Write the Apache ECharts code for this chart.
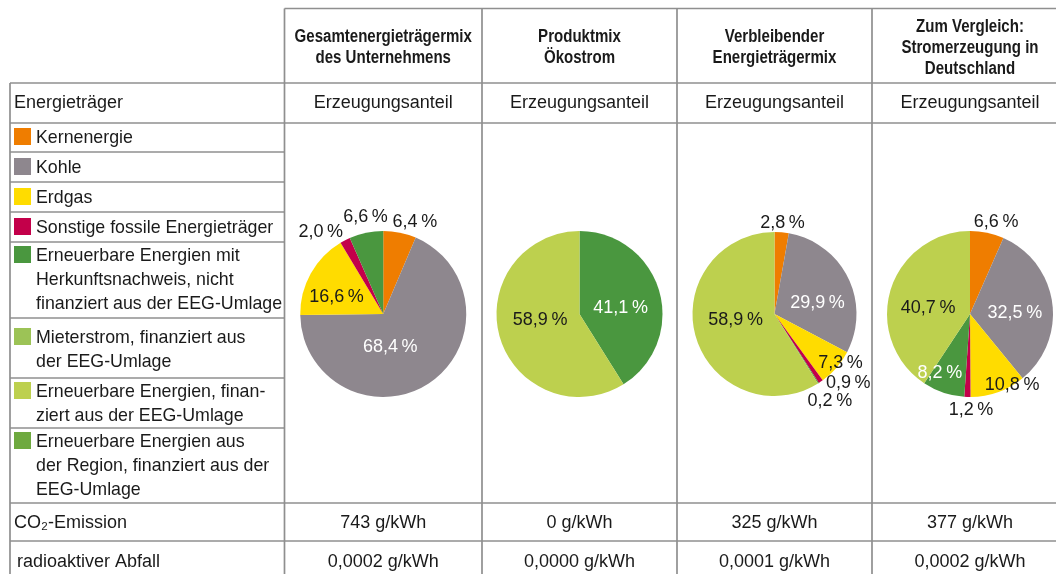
<!DOCTYPE html>
<html><head><meta charset="utf-8">
<script src="https://cdn.jsdelivr.net/npm/echarts@6/dist/echarts.min.js"></script>
<style>html,body{margin:0;padding:0;background:#fff}#c{width:1056px;height:574px}</style>
</head><body><div id="c"></div>
<script>
// ---------- DATA ----------
const categories = [
  'Kernenergie',
  'Kohle',
  'Erdgas',
  'Sonstige fossile Energieträger',
  'Erneuerbare Energien mit Herkunftsnachweis, nicht finanziert aus der EEG-Umlage',
  'Mieterstrom, finanziert aus der EEG-Umlage',
  'Erneuerbare Energien, finanziert aus der EEG-Umlage',
  'Erneuerbare Energien aus der Region, finanziert aus der EEG-Umlage'
];
const categoryLabels = [
  'Kernenergie',
  'Kohle',
  'Erdgas',
  'Sonstige fossile Energieträger',
  'Erneuerbare Energien mit\nHerkunftsnachweis, nicht\nfinanziert aus der EEG-Umlage',
  'Mieterstrom, finanziert aus\nder EEG-Umlage',
  'Erneuerbare Energien, finan-\nziert aus der EEG-Umlage',
  'Erneuerbare Energien aus\nder Region, finanziert aus der\nEEG-Umlage'
];
const columnTitles = [
  'Gesamtenergieträgermix\ndes Unternehmens',
  'Produktmix\nÖkostrom',
  'Verbleibender\nEnergieträgermix',
  'Zum Vergleich:\nStromerzeugung in\nDeutschland'
];
const rowHeader = 'Energieträger';
const subHeader = 'Erzeugungsanteil';
const gesamtmix   = [6.4, 68.4, 16.6, 2.0, 6.6, 0, 0, 0];
const produktmix  = [0, 0, 0, 0, 41.1, 0, 58.9, 0];
const verbleibend = [2.8, 29.9, 7.3, 0.9, 0.2, 0, 58.9, 0];
const deutschland = [6.6, 32.5, 10.8, 1.2, 8.2, 0, 40.7, 0];
const co2Label = 'CO\u2082-Emission';
const co2Values = [743, 0, 325, 377];
const wasteLabel = ' radioaktiver Abfall';
const wasteValues = [0.0002, 0.0000, 0.0001, 0.0002];

// ---------- STYLE / LAYOUT ----------
const COLORS = ['#EF7D00', '#8E878E', '#FFDC00', '#C3004A', '#4A973F', '#9CC356', '#BDD04E', '#6EA93F'];
const TEXT = '#1a1a1a';
const LINE = '#8f8f8f';
const FONT = 'Liberation Sans, Arial, sans-serif';
const colEdges = [284.5, 482, 677, 872, 1068];
const colCenters = [0, 1, 2, 3].map(i => (colEdges[i] + colEdges[i + 1]) / 2);
const pieRadius = [83, 83, 82, 83];
const pieCY = 314;
const legendSquareTop = [128, 158, 188, 218, 246, 328, 382, 432];
// label placement: [radius factor, angular shift in degrees] per category
const labelPlace = [
  {0: [1.17, 7.5], 1: [0.41, 22], 2: [0.6, -9], 3: [1.24, -10], 4: [1.19, 1.5]},
  {4: [0.5, 7.7], 6: [0.48, 7]},
  {0: [1.11, 0], 1: [0.54, 12], 2: [1.0, -4.4], 3: [1.23, -12.6], 4: [1.26, 0], 6: [0.48, 7]},
  {0: [1.15, 4], 1: [0.54, 6.7], 2: [0.99, -11], 3: [1.16, -2.4], 4: [0.8, 8.3], 6: [0.51, -8.7]}
];

const pieValues = [gesamtmix, produktmix, verbleibend, deutschland];
const fmt1 = v => v.toFixed(1).replace('.', ',');

const pieItems = pieValues.map((vals, p) => {
  const out = [];
  vals.forEach((v, c) => {
    if (v > 0) {
      const place = labelPlace[p][c] || [0.5, 0];
      const white = place[0] < 0.95 && (c === 1 || c === 4);
      out.push({
        name: categories[c], value: v, cat: c,
        itemStyle: {color: COLORS[c]},
        label: {color: white ? '#ffffff' : TEXT}
      });
    }
  });
  return out;
});

function placeLabel(p, params) {
  const list = pieItems[p];
  const idx = params.dataIndex;
  let total = 0, cum = 0;
  list.forEach((it, i) => { total += it.value; if (i < idx) cum += it.value; });
  const mid = 360 * (cum + list[idx].value / 2) / total;
  const place = labelPlace[p][list[idx].cat] || [0.5, 0];
  const th = (mid + place[1]) * Math.PI / 180;
  const d = place[0] * pieRadius[p];
  return {
    x: colCenters[p] + d * Math.sin(th),
    y: pieCY - d * Math.cos(th),
    align: 'center', verticalAlign: 'middle'
  };
}

// ---------- GRAPHIC (table) ----------
const g = [];
function hline(y, x1, x2) {
  g.push({type: 'line', silent: true, shape: {x1, y1: y, x2, y2: y}, style: {stroke: LINE, lineWidth: 1.7}});
}
function vline(x, y1, y2) {
  g.push({type: 'line', silent: true, shape: {x1: x, y1, x2: x, y2}, style: {stroke: LINE, lineWidth: 1.7}});
}
function text(str, x, y, opt, extra) {
  g.push(Object.assign({type: 'text', silent: true, x, y, style: Object.assign({
    text: str, fill: TEXT, fontFamily: FONT, fontSize: 18, align: 'left', verticalAlign: 'middle'
  }, opt || {})}, extra || {}));
}
hline(8.5, colEdges[0], 1056);
hline(83, 10, 1056);
hline(123, 10, 1056);
[152, 182, 212, 242, 318, 378, 428].forEach(y => hline(y, 10, colEdges[0]));
hline(503, 10, 1056);
hline(541, 10, 1056);
vline(10, 83, 574);
for (let i = 0; i < 4; i++) vline(colEdges[i], 8.5, 574);

columnTitles.forEach((t, i) => text(t, colCenters[i], 48, {
  fontWeight: 'bold', fontSize: 17.5, align: 'center', lineHeight: 21
}, {scaleX: 0.86}));
text(rowHeader, 14, 103);
colCenters.forEach(cx => text(subHeader, cx, 103, {align: 'center'}));

categoryLabels.forEach((t, c) => {
  const top = legendSquareTop[c];
  g.push({type: 'rect', silent: true, shape: {x: 14, y: top, width: 17, height: 17}, style: {fill: COLORS[c]}});
  text(t, 36, top + 10.5 - 12, {verticalAlign: 'top', lineHeight: 24, fontSize: 17.8});
});

text(co2Label, 14, 523);
co2Values.forEach((v, i) => text(v + ' g/kWh', colCenters[i], 523, {align: 'center'}));
text(wasteLabel, 12, 562);
wasteValues.forEach((v, i) => text(v.toFixed(4).replace('.', ',') + ' g/kWh', colCenters[i], 562, {align: 'center'}));

// ---------- CHART ----------
const chart = echarts.init(document.getElementById('c'), null, {renderer: 'canvas'});
chart.setOption({
  animation: false,
  backgroundColor: '#ffffff',
  graphic: g,
  series: pieItems.map((items, p) => ({
    type: 'pie',
    center: [colCenters[p], pieCY],
    radius: pieRadius[p],
    startAngle: 90,
    clockwise: true,
    silent: true,
    avoidLabelOverlap: false,
    emphasis: {disabled: true},
    itemStyle: {borderWidth: 0},
    label: {
      show: true, position: 'inside', fontFamily: FONT, fontSize: 18,
      formatter: prm => fmt1(prm.value) + '\u2009%'
    },
    labelLine: {show: false},
    labelLayout: prm => placeLabel(p, prm),
    data: items
  }))
});
</script>
</body></html>
